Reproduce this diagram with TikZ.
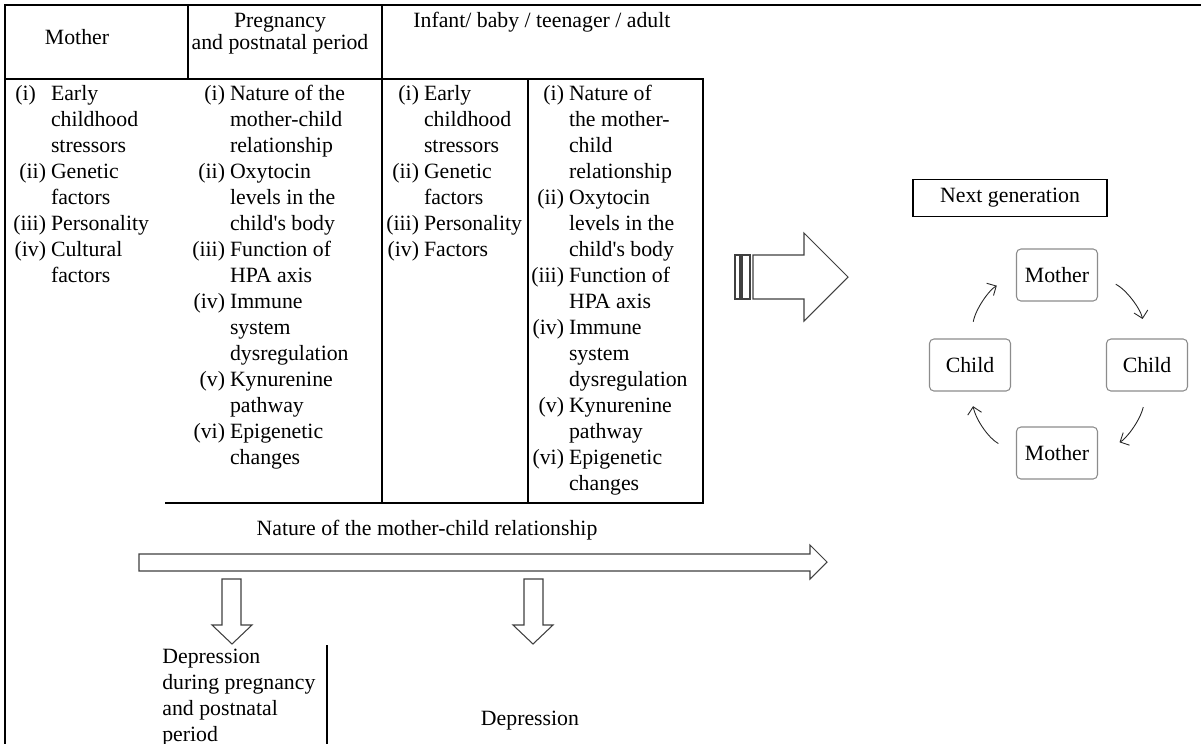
\documentclass[tikz,border=0pt]{standalone}
\usepackage{fontspec}
\setmainfont{Liberation Serif}
\usetikzlibrary{arrows.meta}
\pgfdeclarelayer{edgelayer}
\pgfdeclarelayer{nodelayer}
\pgfsetlayers{edgelayer,nodelayer,main}
\tikzstyle{head_text}=[inner sep=0pt,align=center,font=\fontsize{12.4}{12.5}\selectfont]
\tikzstyle{list_text}=[inner sep=0pt,anchor=base west,font=\fontsize{12.4}{14.8}\selectfont]
\tikzstyle{cycle_box}=[draw=black!45,line width=0.6pt,rounded corners=2.5pt,minimum width=1.62cm,minimum height=1.04cm,font=\fontsize{12.4}{14.8}\selectfont]
\tikzstyle{gen_box}=[draw=black,line width=0.6pt,minimum width=3.88cm,minimum height=0.74cm,font=\fontsize{12.4}{14.8}\selectfont]
\tikzstyle{frame}=[draw=black,line width=1.1pt]
\tikzstyle{hollow_arrow}=[draw=black!75,line width=0.6pt,fill=white]
\tikzstyle{cycle_arrow}=[-{Straight Barb[length=4pt,width=8pt]},draw=black!85,line width=0.5pt,bend left=25]
\newcommand{\itemlist}[1]{\begin{tabular}[t]{@{}r@{\hspace{0.1cm}}l@{}}#1\end{tabular}}

\begin{document}
\begin{tikzpicture}[x=0.02cm,y=-0.02cm]
	\useasboundingbox (0,0) rectangle (1201,744);
	\begin{pgfonlayer}{nodelayer}
		% table heads
		\node [style=head_text] (0) at (77,37) {Mother};
		\node [style=head_text] (1) at (280,34) {Pregnancy\\and postnatal period};
		\node [style=head_text, anchor=base west] (2) at (413,27) {Infant/ baby / teenager / adult};
		% lists
		\node [style=list_text] (3) at (13,100) {\itemlist{\multicolumn{1}{@{}l@{\hspace{0.1cm}}}{\hspace{0.04cm}(i)}&Early\\&childhood\\&stressors\\(ii)&Genetic\\&factors\\(iii)&Personality\\(iv)&Cultural\\&factors}};
		\node [style=list_text] (4) at (192,100) {\itemlist{(i)&Nature of the\\&mother-child\\&relationship\\(ii)&Oxytocin\\&levels in the\\&child\textquotesingle s body\\(iii)&Function of\\&HPA axis\\(iv)&Immune\\&system\\&dysregulation\\(v)&Kynurenine\\&pathway\\(vi)&Epigenetic\\&changes}};
		\node [style=list_text] (5) at (386,100) {\itemlist{(i)&Early\\&childhood\\&stressors\\(ii)&Genetic\\&factors\\(iii)&Personality\\(iv)&Factors}};
		\node [style=list_text] (6) at (531,100) {\itemlist{(i)&Nature of\\&the mother-\\&child\\&relationship\\(ii)&Oxytocin\\&levels in the\\&child\textquotesingle s body\\(iii)&Function of\\&HPA axis\\(iv)&Immune\\&system\\&dysregulation\\(v)&Kynurenine\\&pathway\\(vi)&Epigenetic\\&changes}};
		% bottom part
		\node [style=head_text, anchor=base] (7) at (427,535) {Nature of the mother-child relationship};
		\node [style=list_text] (8) at (162,663) {\begin{tabular}[t]{@{}l@{}}Depression\\during pregnancy\\and postnatal\\period\end{tabular}};
		\node [style=head_text, anchor=base] (9) at (530,725) {Depression};
		% next generation
		\node [style=gen_box] (10) at (1010,198) {Next generation};
		\node [style=cycle_box] (11) at (1057,275) {Mother};
		\node [style=cycle_box] (12) at (1147,365) {Child};
		\node [style=cycle_box] (13) at (1057,453) {Mother};
		\node [style=cycle_box] (14) at (970,365) {Child};
	\end{pgfonlayer}
	\begin{pgfonlayer}{edgelayer}
		\fill [white] (0,0) rectangle (1201,744);
		% table rules
		\draw [style=frame] (1201,5) -- (5,5) -- (5,744);
		\draw [style=frame] (188,5) -- (188,79);
		\draw [style=frame] (382,5) -- (382,503);
		\draw [style=frame] (5,79) -- (703,79) -- (703,503) -- (165,503);
		\draw [style=frame] (528,79) -- (528,503);
		\draw [style=frame] (327,645) -- (327,744);
		% block arrows
		\draw [style=hollow_arrow] (735,255) rectangle (740,299);
		\draw [style=hollow_arrow] (742,255) rectangle (750,299);
		\draw [style=hollow_arrow] (753,255) -- (804,255) -- (804,233) -- (848,277) -- (804,321) -- (804,299) -- (753,299) -- cycle;
		\draw [style=hollow_arrow] (139,554) -- (810,554) -- (810,545) -- (827,562) -- (810,579) -- (810,571) -- (139,571) -- cycle;
		\draw [style=hollow_arrow] (222,579) -- (241,579) -- (241,625) -- (252,625) -- (232,644) -- (212,625) -- (222,625) -- cycle;
		\draw [style=hollow_arrow] (524,579) -- (543,579) -- (543,625) -- (553,625) -- (533,644) -- (513,625) -- (524,625) -- cycle;
		% cycle
		\draw [style=cycle_arrow, shorten <=0.4cm, shorten >=0.4cm] (11.east) to (12.north);
		\draw [style=cycle_arrow, shorten <=0.32cm, shorten >=0.48cm] (12.south) to (13.east);
		\draw [style=cycle_arrow, shorten <=0.4cm, shorten >=0.3cm] (13.west) to (14.south);
		\draw [style=cycle_arrow, shorten <=0.34cm, shorten >=0.44cm] (14.north) to (11.west);
	\end{pgfonlayer}
\end{tikzpicture}
\end{document}
